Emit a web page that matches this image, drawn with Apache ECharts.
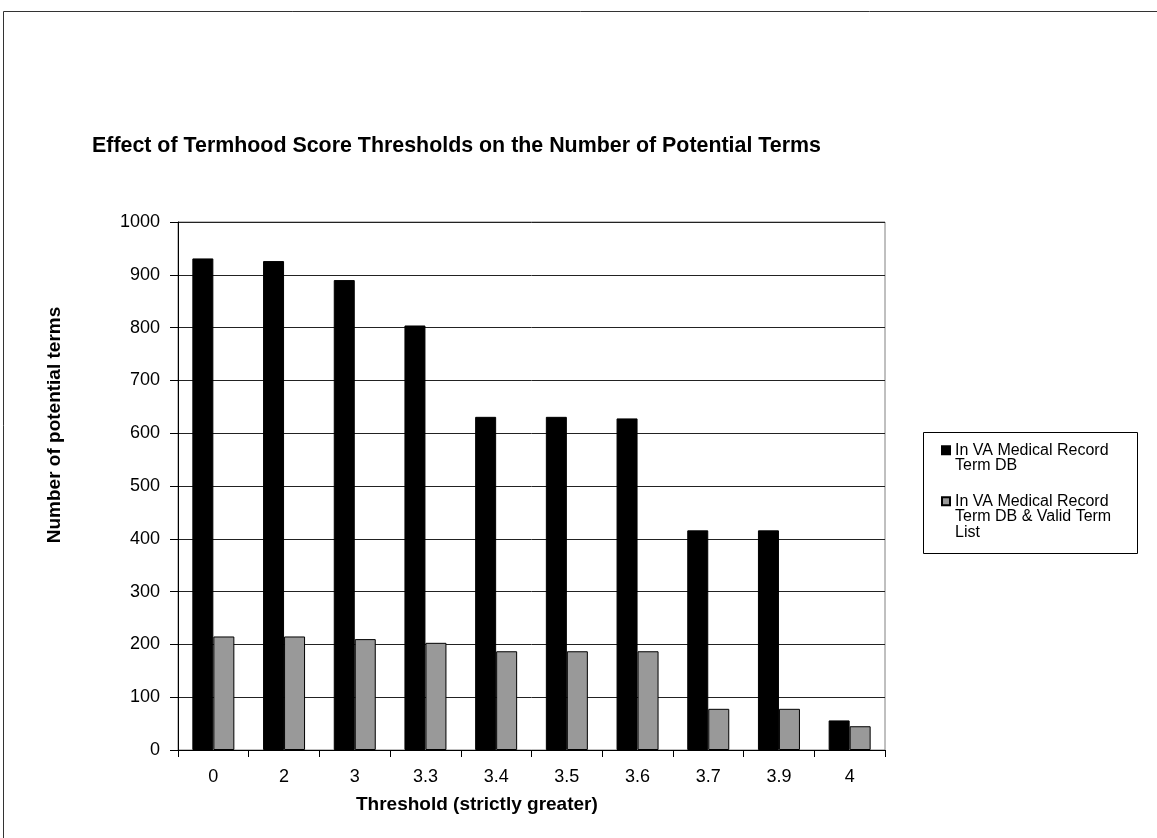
<!DOCTYPE html>
<html>
<head>
<meta charset="utf-8">
<script src="https://cdn.jsdelivr.net/npm/echarts@6/dist/echarts.min.js"></script>
<style>
html, body { margin: 0; padding: 0; background: #fff; }
#chart { width: 1157px; height: 838px; }
</style>
</head>
<body>
<div id="chart"></div>
<script>
// thresholds on the x axis
const categories = ['0', '2', '3', '3.3', '3.4', '3.5', '3.6', '3.7', '3.9', '4']
// In VA Medical Record Term DB
const termDb = [931, 926, 890, 804, 631, 631, 628, 416, 416, 56]
// In VA Medical Record Term DB & Valid Term List
const validList = [215, 215, 210, 203, 187, 187, 187, 78, 78, 45]
const yMin = 0
const yMax = 1000
const yStep = 100
const seriesNames = ['In VA Medical Record Term DB', 'In VA Medical Record Term DB & Valid Term List']
const legendLines = ['In VA Medical Record\nTerm DB', 'In VA Medical Record\nTerm DB & Valid Term\nList']

const font = "'Liberation Sans', Arial, sans-serif"
const legendLineH = 15.5
const chart = echarts.init(document.getElementById('chart'))

// legend text is centred on the swatch, so blank lines are put in front
// to make the first real line sit level with the swatch
function legendFor(i, firstLineY) {
  const lines = legendLines[i].split('\n')
  const padded = new Array(lines.length - 1).fill('').concat(lines).join('\n')
  const total = lines.length * 2 - 1
  return {
    orient: 'vertical',
    left: 941,
    top: firstLineY - total * legendLineH / 2,
    padding: 0,
    itemWidth: 8,
    itemHeight: 8,
    icon: 'rect',
    selectedMode: false,
    data: [seriesNames[i]],
    formatter: function() { return padded },
    textStyle: { fontFamily: font, fontSize: 16, lineHeight: legendLineH, color: '#000' }
  }
}

chart.setOption({
  backgroundColor: '#fff',
  animation: false,
  title: {
    text: 'Effect of Termhood Score Thresholds on the Number of Potential Terms',
    left: 92,
    top: 136,
    padding: 0,
    textStyle: { fontFamily: font, fontSize: 21.4, fontWeight: 'bold', color: '#000' }
  },
  legend: [legendFor(0, 450), legendFor(1, 501)],
  grid: {
    left: 178,
    right: 272,
    top: 222,
    bottom: 88,
    show: true,
    borderColor: '#808080',
    borderWidth: 1
  },
  xAxis: {
    type: 'category',
    data: categories,
    axisLine: { show: true, lineStyle: { color: '#000', width: 1 } },
    axisTick: { show: true, length: 7, lineStyle: { color: '#000' } },
    axisLabel: { margin: 18, fontFamily: font, fontSize: 18, color: '#000' },
    splitLine: { show: false }
  },
  yAxis: {
    type: 'value',
    min: yMin,
    max: yMax,
    interval: yStep,
    axisLine: { show: true, lineStyle: { color: '#000', width: 1 } },
    axisTick: { show: true, length: 8, lineStyle: { color: '#000' } },
    axisLabel: {
      margin: 18, fontFamily: font, fontSize: 18, color: '#000',
      formatter: function(v) { return String(v) }
    },
    splitLine: { show: true, lineStyle: { color: '#222', width: 1 } }
  },
  series: [
    {
      name: seriesNames[0],
      type: 'bar',
      data: termDb,
      barWidth: 21,
      barGap: '0%',
      itemStyle: { color: '#000', borderColor: '#000', borderWidth: 1 }
    },
    {
      name: seriesNames[1],
      type: 'bar',
      data: validList,
      barWidth: 21,
      barGap: '0%',
      itemStyle: { color: '#999', borderColor: '#000', borderWidth: 1 }
    }
  ],
  graphic: [
    {
      type: 'rect',
      silent: true,
      shape: { x: 3.5, y: 11.5, width: 1200, height: 900 },
      style: { fill: 'none', stroke: '#333', lineWidth: 1 }
    },
    {
      type: 'rect',
      silent: true,
      shape: { x: 923.5, y: 432.5, width: 214, height: 121 },
      style: { fill: 'none', stroke: '#000', lineWidth: 1 }
    },
    {
      type: 'text',
      silent: true,
      x: 356,
      y: 805,
      style: {
        text: 'Threshold (strictly greater)',
        fontFamily: font, fontSize: 19, fontWeight: 'bold', fill: '#000',
        align: 'left', verticalAlign: 'middle'
      }
    },
    {
      type: 'text',
      silent: true,
      x: 55,
      y: 425,
      rotation: Math.PI / 2,
      style: {
        text: 'Number of potential terms',
        fontFamily: font, fontSize: 19, fontWeight: 'bold', fill: '#000',
        align: 'center', verticalAlign: 'middle'
      }
    }
  ]
})
</script>
</body>
</html>
